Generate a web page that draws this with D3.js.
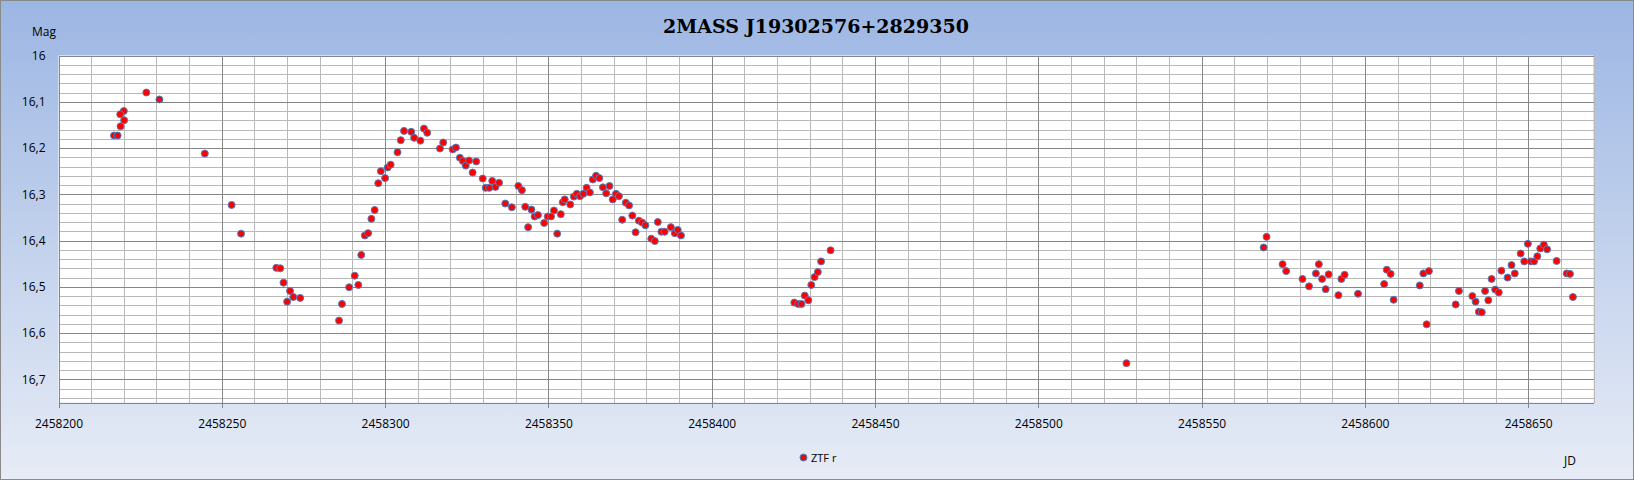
<!DOCTYPE html>
<html>
<head>
<meta charset="utf-8">
<script src="https://cdn.jsdelivr.net/npm/d3@7"></script>
<style>
  html, body { margin: 0; padding: 0; background: #fff; }
  svg { display: block; }
</style>
</head>
<body>
<div id="chart"></div>
<script>
// ---- Data ----
const title = "2MASS J19302576+2829350";
const seriesName = "ZTF r";
const jdBase = 2458200;
const jdOffsets = [
  26.9, 30.9, 20.0, 18.9, 20.1, 19.0, 17.0, 18.1, 44.8, 53.0, 55.9,
  66.7, 67.9, 68.9, 70.9, 71.9, 74.0, 70.0,
  85.9, 86.8, 89.0, 90.7, 91.8, 92.7, 93.8, 94.8, 95.8, 96.8, 97.9, 100.0, 98.7, 100.8, 101.7,
  103.8, 104.8, 105.8, 108.0, 108.9, 110.8, 111.9, 112.9, 116.8, 117.8, 120.7, 121.7, 122.9,
  123.8, 124.7, 125.7, 127.9, 126.8, 129.9, 130.8, 131.9, 132.8, 133.8, 134.9, 136.8, 138.8,
  140.8, 141.9, 142.9, 143.8, 144.8, 145.8, 146.8, 148.7, 149.8, 150.8, 151.7, 152.7,
  153.8, 154.4, 155.0, 156.7, 157.8, 158.7, 159.7, 160.7, 161.7, 162.7, 163.6, 164.6, 165.6,
  166.7, 167.7, 168.7, 169.7, 170.7, 171.6, 172.6, 173.7, 174.7, 175.7, 176.7, 177.7, 178.7,
  179.7, 181.5, 182.6, 183.5, 184.6, 185.6, 187.5, 188.7, 189.6, 190.6,
  225.3, 226.5, 227.5, 228.5, 229.6, 230.5, 231.5, 232.5, 233.5, 236.4,
  327.0,
  369.9, 369.0, 374.8, 375.9, 380.9, 382.9, 385.0, 385.9, 386.9, 388.0, 388.9, 391.9, 392.8,
  393.8, 397.9, 405.9, 406.7, 407.9, 408.8, 416.8, 417.9, 419.6, 418.9,
  427.8, 428.8, 432.9, 433.9, 434.9, 435.8, 436.8, 437.8, 438.8, 439.9, 441.0, 441.8, 443.7,
  444.9, 445.9, 447.7, 448.8, 449.9, 450.8, 451.8, 452.8, 453.7, 454.8, 455.8, 458.7, 461.8,
  462.8, 463.7
];
const mags = [
  16.080, 16.095, 16.120, 16.127, 16.140, 16.153, 16.173, 16.173, 16.212, 16.323, 16.385,
  16.459, 16.460, 16.491, 16.509, 16.522, 16.524, 16.532,
  16.573, 16.537, 16.501, 16.476, 16.496, 16.431, 16.389, 16.384, 16.353, 16.334, 16.276, 16.265, 16.250, 16.242, 16.236,
  16.209, 16.183, 16.163, 16.165, 16.178, 16.184, 16.158, 16.167, 16.201, 16.188, 16.203, 16.199, 16.221,
  16.228, 16.238, 16.227, 16.229, 16.253, 16.266, 16.286, 16.286, 16.271, 16.284, 16.275, 16.320, 16.328,
  16.282, 16.291, 16.327, 16.371, 16.333, 16.348, 16.345, 16.362, 16.348, 16.348, 16.335, 16.385,
  16.343, 16.317, 16.311, 16.322, 16.305, 16.299, 16.304, 16.299, 16.286, 16.296, 16.268, 16.260, 16.265,
  16.285, 16.298, 16.282, 16.311, 16.299, 16.304, 16.355, 16.318, 16.324, 16.346, 16.382, 16.357, 16.361,
  16.367, 16.396, 16.401, 16.360, 16.381, 16.381, 16.371, 16.384, 16.377, 16.389,
  16.534, 16.537, 16.537, 16.519, 16.529, 16.496, 16.479, 16.468, 16.445, 16.421,
  16.665,
  16.392, 16.415, 16.451, 16.466, 16.483, 16.499, 16.471, 16.451, 16.483, 16.505, 16.473, 16.518, 16.483,
  16.474, 16.515, 16.494, 16.463, 16.472, 16.528, 16.497, 16.471, 16.466, 16.581,
  16.538, 16.509, 16.520, 16.532, 16.554, 16.555, 16.509, 16.529, 16.483, 16.506, 16.512, 16.465, 16.480,
  16.453, 16.471, 16.428, 16.445, 16.407, 16.445, 16.445, 16.434, 16.417, 16.409, 16.419, 16.444, 16.471,
  16.472, 16.522
];
const xTicks = [2458200, 2458250, 2458300, 2458350, 2458400, 2458450, 2458500, 2458550, 2458600, 2458650];
const yTicks = [16, 16.1, 16.2, 16.3, 16.4, 16.5, 16.6, 16.7];
const xDomain = [2458200, 2458670];
const yDomain = [16, 16.75];

// ---- Layout ----
const W = 1634, H = 480;
const plot = { left: 58.5, right: 1593.5, top: 55.5, bottom: 402.5 };

const svg = d3.select("#chart").append("svg")
  .attr("width", W).attr("height", H);

const defs = svg.append("defs");
const grad = defs.append("linearGradient").attr("id", "bg")
  .attr("x1", 0).attr("y1", 0).attr("x2", 0).attr("y2", 1);
grad.append("stop").attr("offset", "0%").attr("stop-color", "#9cb6e3");
grad.append("stop").attr("offset", "100%").attr("stop-color", "#e7ecf6");

svg.append("rect").attr("x", 0.5).attr("y", 0.5).attr("width", W - 1).attr("height", H - 1)
  .attr("fill", "url(#bg)").attr("stroke", "#8a8a8a").attr("stroke-width", 1);

const x = d3.scaleLinear().domain(xDomain).range([plot.left, plot.right]);
const y = d3.scaleLinear().domain(yDomain).range([plot.top, plot.bottom]);

// Plot background
svg.append("rect")
  .attr("x", plot.left).attr("y", plot.top)
  .attr("width", plot.right - plot.left).attr("height", plot.bottom - plot.top)
  .attr("fill", "#ffffff");

// Grid
const grid = svg.append("g").attr("shape-rendering", "crispEdges");
const minorX = d3.range(xDomain[0], xDomain[1] + 0.001, 10).filter(v => (v - xDomain[0]) % 50 !== 0);
const minorY = d3.range(0, 38).map(i => +(16 + i * 0.02).toFixed(2)).filter(v => Math.round(v * 100) % 10 !== 0);

grid.selectAll(".mx").data(minorX).join("line")
  .attr("x1", d => Math.round(x(d)) + 0.5).attr("x2", d => Math.round(x(d)) + 0.5)
  .attr("y1", plot.top).attr("y2", plot.bottom)
  .attr("stroke", "#b9b9b9").attr("stroke-width", 1);
grid.selectAll(".my").data(minorY).join("line")
  .attr("y1", d => Math.round(y(d)) + 0.5).attr("y2", d => Math.round(y(d)) + 0.5)
  .attr("x1", plot.left).attr("x2", plot.right)
  .attr("stroke", "#b9b9b9").attr("stroke-width", 1);
grid.selectAll(".Mx").data(xTicks).join("line")
  .attr("x1", d => Math.round(x(d)) + 0.5).attr("x2", d => Math.round(x(d)) + 0.5)
  .attr("y1", plot.top).attr("y2", plot.bottom)
  .attr("stroke", "#868686").attr("stroke-width", 1);
grid.selectAll(".My").data(yTicks).join("line")
  .attr("y1", d => Math.round(y(d)) + 0.5).attr("y2", d => Math.round(y(d)) + 0.5)
  .attr("x1", plot.left).attr("x2", plot.right)
  .attr("stroke", "#868686").attr("stroke-width", 1);

// Axes
const fontAxis = "'Open Sans', 'Liberation Sans', sans-serif";
const xAxis = d3.axisBottom(x).tickValues(xTicks).tickFormat(d3.format("d"))
  .tickSize(5).tickPadding(12).tickSizeOuter(0);
const gx = svg.append("g").attr("transform", `translate(0,${plot.bottom})`)
  .attr("shape-rendering", "crispEdges").call(xAxis);
gx.select(".domain").attr("stroke", "#868686");
gx.selectAll(".tick line").attr("stroke", "#868686");
gx.selectAll(".tick text").attr("font-family", fontAxis).attr("font-size", 12).attr("fill", "#000");

const yFmt = d => d === 16 ? "16" : d3.format(".1f")(d).replace(".", ",");
const yAxis = d3.axisLeft(y).tickValues(yTicks).tickFormat(yFmt).tickSize(0).tickPadding(13);
const gy = svg.append("g").attr("transform", `translate(${plot.left},0)`).call(yAxis);
gy.select(".domain").remove();
gy.selectAll(".tick text").attr("font-family", fontAxis).attr("font-size", 12).attr("fill", "#000");

// Points
const data = jdOffsets.map((o, i) => ({ jd: jdBase + o, mag: mags[i] }));
svg.append("g").selectAll("circle").data(data).join("circle")
  .attr("cx", d => x(d.jd)).attr("cy", d => y(d.mag))
  .attr("r", 3.5)
  .attr("fill", "#ff0000").attr("stroke", "#4f7fc0").attr("stroke-width", 1);

// Title
svg.append("text").attr("x", 816).attr("y", 33)
  .attr("text-anchor", "middle")
  .attr("font-family", "'DejaVu Serif', serif").attr("font-weight", "bold")
  .attr("font-size", 19).attr("fill", "#000").text(title);

// Axis titles
svg.append("text").attr("x", 32).attr("y", 35.5)
  .attr("font-family", fontAxis).attr("font-size", 12).attr("fill", "#000").text("Mag");
svg.append("text").attr("x", 1564).attr("y", 465)
  .attr("font-family", fontAxis).attr("font-size", 12).attr("fill", "#000").text("JD");

// Legend
const lg = svg.append("g");
lg.append("circle").attr("cx", 803.5).attr("cy", 457.5).attr("r", 3.5)
  .attr("fill", "#ff0000").attr("stroke", "#4f7fc0").attr("stroke-width", 1);
lg.append("text").attr("x", 811).attr("y", 461.5)
  .attr("font-family", fontAxis).attr("font-size", 11).attr("fill", "#000").text(seriesName);
</script>
</body>
</html>
